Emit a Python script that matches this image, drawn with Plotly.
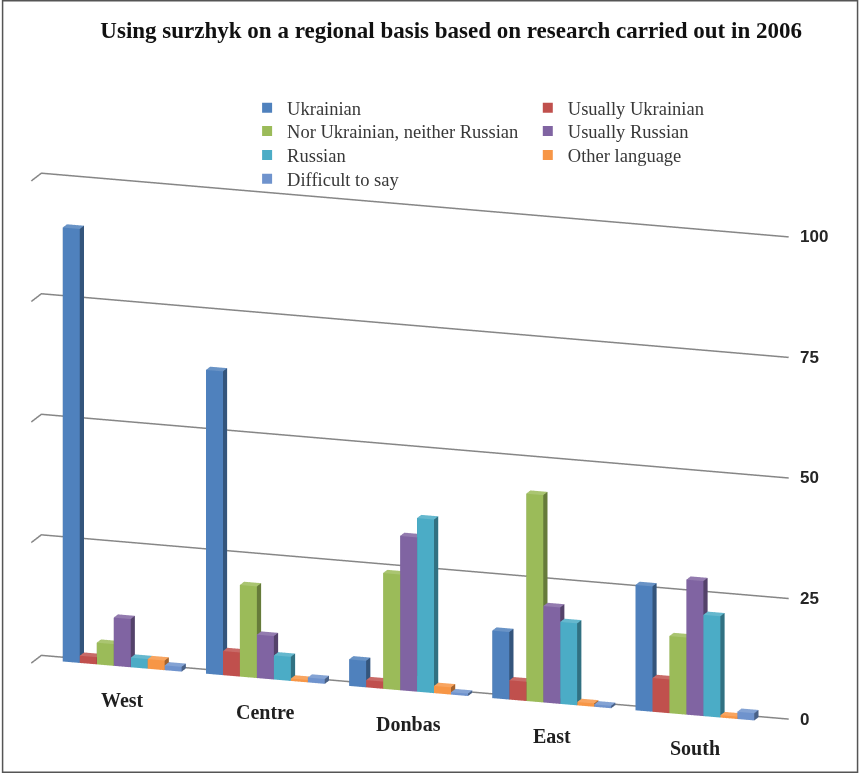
import plotly.graph_objects as go

# ---------------- data ----------------
regions = ["West", "Centre", "Donbas", "East", "South"]
series_names = ["Ukrainian", "Usually Ukrainian", "Nor Ukrainian, neither Russian",
                "Usually Russian", "Russian", "Other language", "Difficult to say"]
ukrainian = [90, 63, 5.5, 14, 26]
usually_ukrainian = [1.5, 5, 1.5, 4, 7]
nor_ukrainian_neither_russian = [4.5, 19, 24, 43, 16]
usually_russian = [10, 9, 32, 20, 28]
russian = [2, 5, 36, 17, 21]
other_language = [2, 0.5, 1.5, 0.7, 0.5]
difficult_to_say = [1, 1, 0.5, 0.5, 1.5]
z_ticks = [0, 25, 50, 75, 100]
z_tick_labels = ["0", "25", "50", "75", "100"]
title_text = "Using surzhyk on a regional basis based on research carried out in 2006"

series_values = [ukrainian, usually_ukrainian, nor_ukrainian_neither_russian,
                 usually_russian, russian, other_language, difficult_to_say]
colors = ["#4F81BD", "#C0504D", "#9BBB59", "#8064A2", "#4BACC6", "#F79646", "#6F93CD"]

# legend placement (two columns, row-major like the original)
legend_cols_x = [0.287, 0.613]
legend_rows_y = [0.860, 0.830, 0.799, 0.768]

# ---------------- geometry settings ----------------
GROUP_W = 0.83
BAR_W = GROUP_W / len(series_names)
Y0, Y1 = 0.5, 0.92
WALL_X = [-0.6, 4.62]   # extent of the walls / gridlines
WALL_Y = [0, 1]
PAD_X, PAD_Y = 0.05, 0.05


def shade(hex_color, f):
    h = hex_color.lstrip("#")
    r, g, b = (int(h[i:i + 2], 16) for i in (0, 2, 4))
    if f <= 1:
        r, g, b = (int(c * f) for c in (r, g, b))
    else:
        r, g, b = (int(c + (255 - c) * (f - 1)) for c in (r, g, b))
    return f"rgb({r},{g},{b})"


fig = go.Figure()

# gridlines on the back wall and the left side wall, one per tick value
gx, gy, gz = [], [], []
for zt in z_ticks:
    gx += [WALL_X[0], WALL_X[0], WALL_X[1], None]
    gy += [WALL_Y[0], WALL_Y[1], WALL_Y[1], None]
    gz += [zt, zt, zt, None]
fig.add_trace(go.Scatter3d(x=gx, y=gy, z=gz, mode="lines",
                           line=dict(color="#868686", width=3),
                           showlegend=False, hoverinfo="skip"))

legend_layouts = {}
for s, (name, vals, col) in enumerate(zip(series_names, series_values, colors)):
    xs, ys, zs, I, J, K, fc = [], [], [], [], [], [], []
    for r, v in enumerate(vals):
        x0 = r - GROUP_W / 2 + s * BAR_W
        x1 = x0 + BAR_W
        base = len(xs)
        for (xx, yy, zz) in [(x0, Y0, 0), (x1, Y0, 0), (x1, Y1, 0), (x0, Y1, 0),
                             (x0, Y0, v), (x1, Y0, v), (x1, Y1, v), (x0, Y1, v)]:
            xs.append(xx); ys.append(yy); zs.append(zz)
        faces = [((0, 1, 2), 0.5), ((0, 2, 3), 0.5),
                 ((4, 5, 6), 1.15), ((4, 6, 7), 1.15),
                 ((0, 1, 5), 1.0), ((0, 5, 4), 1.0),
                 ((3, 2, 6), 0.8), ((3, 6, 7), 0.8),
                 ((0, 3, 7), 0.85), ((0, 7, 4), 0.85),
                 ((1, 2, 6), 0.66), ((1, 6, 5), 0.66)]
        for (a, b, c), f in faces:
            I.append(base + a); J.append(base + b); K.append(base + c)
            fc.append(shade(col, f))
    fig.add_trace(go.Mesh3d(
        x=xs, y=ys, z=zs, i=I, j=J, k=K, facecolor=fc, flatshading=True,
        lighting=dict(ambient=1.0, diffuse=0.0, specular=0.0, roughness=1.0, fresnel=0.0),
        showlegend=False, hoverinfo="skip", name=name))
    # legend entry: one single-item legend per series, laid out in two columns
    lname = "legend" if s == 0 else f"legend{s + 1}"
    fig.add_trace(go.Scatter3d(
        x=[None], y=[None], z=[None], mode="markers", name=name, legend=lname,
        marker=dict(symbol="square", size=10, color=col), showlegend=True))
    legend_layouts[lname] = dict(
        x=legend_cols_x[s % 2], xanchor="left", y=legend_rows_y[s // 2], yanchor="middle",
        font=dict(family="Liberation Serif", size=18.5, color="#383838"),
        bgcolor="rgba(0,0,0,0)", borderwidth=0)

annotations = []
for r, lab in enumerate(regions):
    annotations.append(dict(x=r, y=Y0, z=0, text=f"<b>{lab}</b>", showarrow=False,
                            yshift=-33, font=dict(family="Liberation Serif", size=20, color="#1f1f1f")))
for zt, zl in zip(z_ticks, z_tick_labels):
    annotations.append(dict(x=WALL_X[1], y=WALL_Y[1], z=zt, text=f"<b>{zl}</b>", showarrow=False,
                            xanchor="left", xshift=10,
                            font=dict(family="Liberation Sans", size=17, color="#262626")))

hidden_axis = dict(showgrid=False, showticklabels=False, showline=False, zeroline=False,
                   showbackground=False, showspikes=False, ticks="", title=dict(text=""))

x_span = (WALL_X[1] - WALL_X[0] + 2 * PAD_X) / (WALL_X[1] - WALL_X[0])
y_span = (WALL_Y[1] - WALL_Y[0] + 2 * PAD_Y) / (WALL_Y[1] - WALL_Y[0])

fig.update_layout(
    width=861, height=773,
    margin=dict(l=0, r=0, t=0, b=0),
    paper_bgcolor="white",
    title=dict(text=f"<b>{title_text}</b>", x=0.524, xanchor="center", y=0.961, yanchor="middle",
               font=dict(family="Liberation Serif", size=23, color="#111111")),
    scene=dict(
        domain=dict(x=[0, 0.952], y=[0.018, 0.818]),
        xaxis=dict(range=[WALL_X[0] - PAD_X, WALL_X[1] + PAD_X], **hidden_axis),
        yaxis=dict(range=[WALL_Y[0] - PAD_Y, WALL_Y[1] + PAD_Y], **hidden_axis),
        zaxis=dict(range=[-1, 101], **hidden_axis),
        aspectmode="manual",
        aspectratio=dict(x=2.62 * 0.973 * x_span, y=0.103 * y_span,
                         z=1.6 * 1.012 * 102 / 100.31),
        camera=dict(projection=dict(type="orthographic"),
                    eye=dict(x=0.3045, y=-0.914, z=0.255),
                    center=dict(x=0, y=0, z=0), up=dict(x=0, y=0, z=1)),
        annotations=annotations,
    ),
    shapes=[dict(type="rect", xref="paper", yref="paper", x0=0.003, x1=0.996, y0=0.001, y1=0.999,
                 line=dict(color="#555555", width=1.5), layer="above")],
    **legend_layouts,
)

fig.write_html("out.html")
